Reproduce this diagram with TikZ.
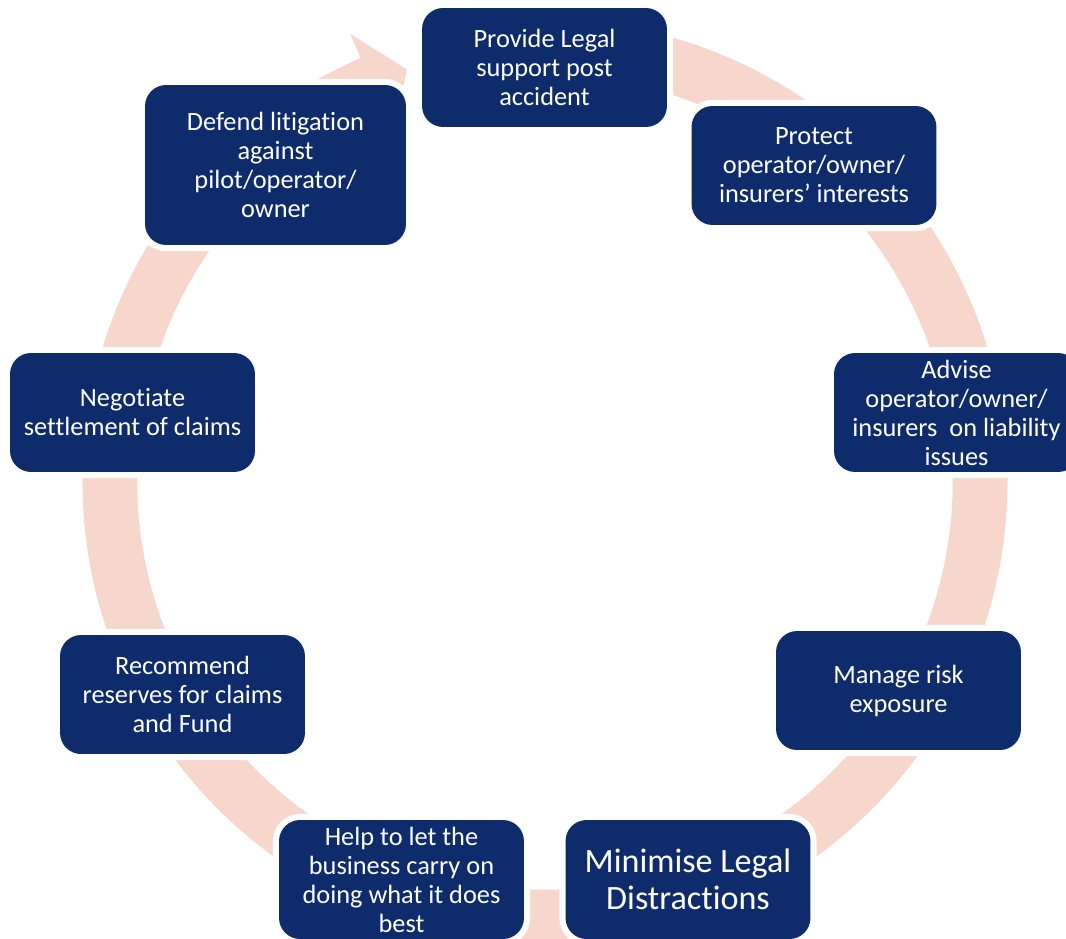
\documentclass[tikz,border=0pt]{standalone}
\usepackage{fontspec}
\setmainfont[Ligatures=NoCommon]{Carlito}
\usepackage{tikz}
\definecolor{navy}{RGB}{14,44,107}
\definecolor{ringpink}{RGB}{247,214,204}

\begin{document}
\begin{tikzpicture}[x=0.02cm, y=-0.02cm,
    stepbox/.style={fill=navy, text=white, rounded corners=12pt,
        minimum width=4.9cm, minimum height=2.38cm, align=center, inner sep=2pt,
        font=\fontsize{15}{16.5}\selectfont,
        preaction={draw=white, line width=7pt}}]
        % 画布范围
        \useasboundingbox (0,0) rectangle (1066,939);

        % 粉色圆环与箭头
        \draw[ringpink, line width=31.2pt, shift={(545,482)}] (-113:435) arc[start angle=-113, end angle=-455, radius=435];
        \fill[ringpink, shift={(545,482)}] (-113.5:489) -- (-108.5:435) -- (-113.5:381) -- cycle;

        % 各个步骤
        \node[stepbox] (legal) at (544.5,67.5) {Provide Legal\\support post\\accident};
        \node[stepbox] (protect) at (814,165.5) {Protect\\operator/owner/\\insurers’ interests};
        \node[stepbox] (advise) at (956.5,412.5) {Advise\\operator/owner/\\insurers\ \ on liability\\issues};
        \node[stepbox] (manage) at (898.5,690.5) {Manage risk\\exposure};
        \node[stepbox, font=\fontsize{19.4}{21.3}\selectfont] (minimise) at (688,879.5) {Minimise Legal\\Distractions};
        \node[stepbox] (help) at (401.5,879.5) {Help to let the\\business carry on\\doing what it does\\best};
        \node[stepbox] (recommend) at (182.5,694.5) {Recommend\\reserves for claims\\and Fund};
        \node[stepbox] (negotiate) at (132.5,412.5) {Negotiate\\settlement of claims};
        \node[stepbox, minimum width=5.22cm, minimum height=3.2cm] (defend) at (275.5,165) {Defend litigation\\against\\pilot/operator/\\owner};
\end{tikzpicture}
\end{document}
